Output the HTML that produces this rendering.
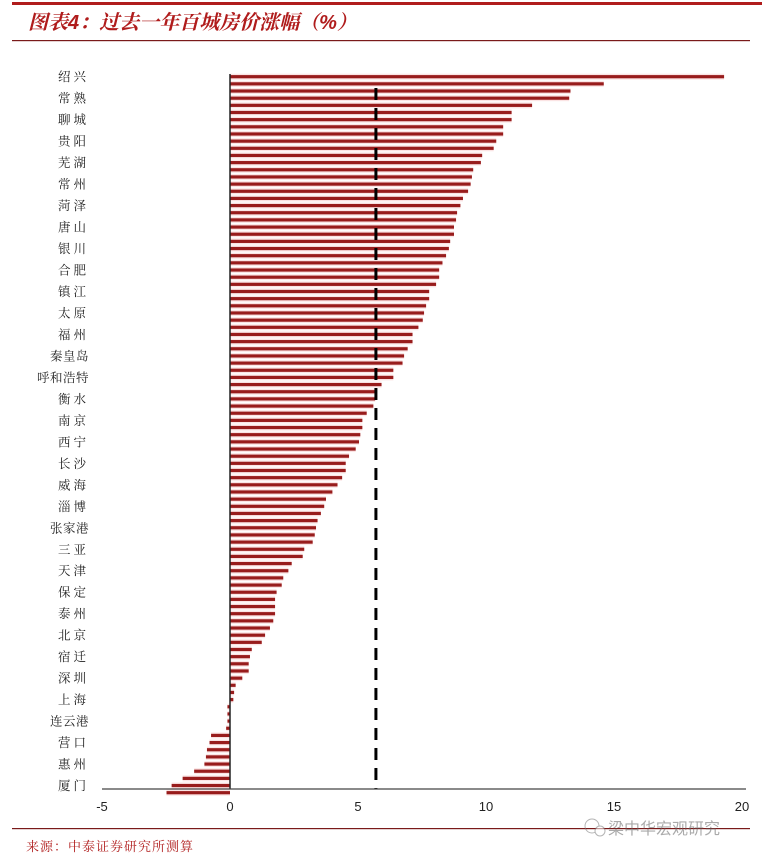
<!DOCTYPE html>
<html><head><meta charset="utf-8">
<style>
body{margin:0;background:#fff;width:762px;height:860px;overflow:hidden;font-family:"Liberation Sans","Noto Sans CJK SC",sans-serif;}
svg{display:block}
</style></head>
<body>
<svg id="chart" width="762" height="860" xmlns="http://www.w3.org/2000/svg">
<rect x="12" y="2" width="750" height="3" fill="#b01c1c"/>
<text x="28" y="29" font-size="20" font-weight="bold" font-style="italic" fill="#b01c1c" font-family="'Liberation Sans','Noto Serif CJK SC',serif">图表4：过去一年百城房价涨幅（%）</text>
<rect x="12" y="40" width="738" height="1.2" fill="#7a1a1a"/>
<g id="bars"></g>
<g id="labels"></g>
<g id="xticks"></g>
<rect x="12" y="828" width="738" height="1.2" fill="#7a1a1a"/>
<text x="26" y="851" font-size="13" fill="#b01c1c" font-family="'Liberation Serif','Noto Serif CJK SC',serif" letter-spacing="1">来源：中泰证券研究所测算</text>
<g opacity="0.55">
<circle cx="592" cy="826" r="7" fill="none" stroke="#777" stroke-width="1"/>
<circle cx="600" cy="831" r="5" fill="#fff" stroke="#777" stroke-width="1"/>
<text x="608" y="834" font-size="16" fill="#666" font-family="'Noto Sans CJK SC',sans-serif">梁中华宏观研究</text>
</g>
</svg>
<script>
const categories = ["绍兴","常熟","聊城","贵阳","芜湖","常州","菏泽","唐山","银川","合肥","镇江","太原","福州","秦皇岛","呼和浩特","衡水","南京","西宁","长沙","威海","淄博","张家港","三亚","天津","保定","泰州","北京","宿迁","深圳","上海","连云港","营口","惠州","厦门"];
const values = [19.3,14.6,13.3,13.25,11.8,11.0,11.0,10.67,10.67,10.4,10.3,9.85,9.8,9.5,9.45,9.4,9.3,9.1,
9.0,8.87,8.83,8.75,8.75,8.6,8.55,8.44,8.3,8.17,8.17,8.05,7.78,7.78,7.66,7.58,7.53,
7.36,7.13,7.13,6.94,6.8,6.74,6.38,6.38,5.92,5.7,5.67,5.6,5.34,5.17,5.17,5.09,5.04,
4.91,4.65,4.52,4.52,4.38,4.2,4.0,3.75,3.68,3.55,3.42,3.36,3.31,3.23,2.9,2.84,2.41,2.28,
2.08,2.02,1.82,1.76,1.76,1.76,1.69,1.56,1.37,1.24,0.85,0.78,0.73,0.73,0.48,0.22,0.16,
0.13,-0.1,-0.1,-0.1,-0.15,-0.74,-0.8,-0.9,-0.94,-1.0,-1.4,-1.85,-2.28,-2.48];
const averageValue = 5.7;
const xTicks = [-5,0,5,10,15,20];

const NS="http://www.w3.org/2000/svg";
const x0=230, unit=25.6, yTop=76.7, step=7.16;
const xs=v=>x0+v*unit;
const ys=i=>yTop+i*step;
function mk(tag,attrs,parent){const e=document.createElementNS(NS,tag);for(const k in attrs)e.setAttribute(k,attrs[k]);parent.appendChild(e);return e;}
const bars=document.getElementById('bars');
values.forEach((v,i)=>{
  const a=Math.min(xs(0),xs(v)), w=Math.abs(xs(v)-xs(0));
  mk('rect',{x:a,y:ys(i)-3,width:w,height:6,fill:'#fbe4e4'},bars);
  const r=mk('rect',{x:a,y:ys(i)-1.6,width:w,height:3.2,fill:'#981c1c'},bars);
  
  
});
const ax=mk('line',{x1:xs(0),x2:xs(0),y1:74,y2:789,stroke:'#222','stroke-width':1.5},bars);


const avg=mk('line',{x1:xs(averageValue),x2:xs(averageValue),y1:88,y2:789,stroke:'#000','stroke-width':3,'stroke-dasharray':'12,8'},bars);


const xl=mk('line',{x1:xs(-5),x2:xs(20)+4,y1:789,y2:789,stroke:'#444','stroke-width':1.2},bars);


const labels=document.getElementById('labels');
categories.forEach((c,k)=>{
  const t=mk('text',{x:89,y:ys(k*3)+4.5,'text-anchor':'end','font-size':12.5,fill:'#222','font-family':"'Noto Serif CJK SC',serif",'letter-spacing':c.length<=2?3:0.5},labels);
  t.textContent=c;
  
  
});
const xt=document.getElementById('xticks');
xTicks.forEach(v=>{
  const t=mk('text',{x:xs(v),y:811,'text-anchor':'middle','font-size':13,fill:'#222'},xt);
  t.textContent=v;
  
  
});
</script>
</body></html>
